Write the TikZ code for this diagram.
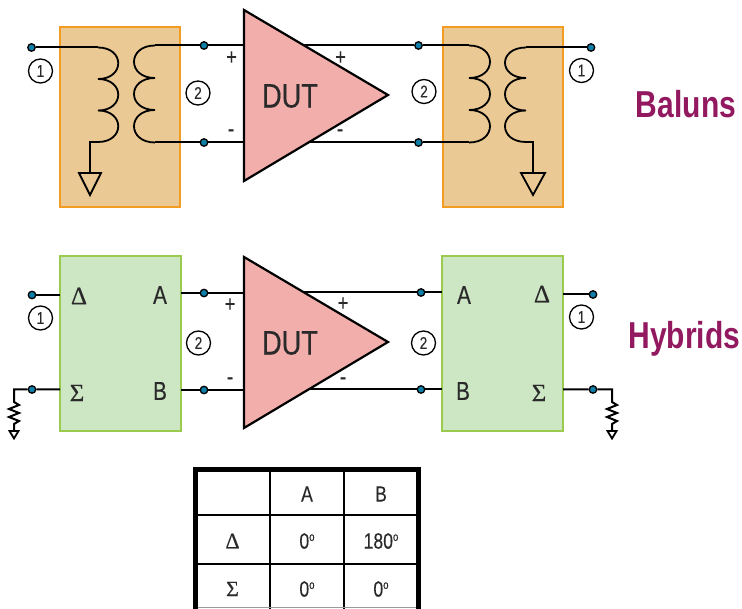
\documentclass[tikz,border=0pt]{standalone}
\usepackage{fontspec}
\setmainfont{Liberation Sans}[FakeStretch=0.8,FakeBold=0.25]
\newfontfamily\greekfont{Liberation Serif}[FakeBold=0.3]
\newfontfamily\boldnarrow{Liberation Sans}[FakeStretch=0.8,BoldFont={Liberation Sans Bold}]
\definecolor{balunfill}{HTML}{EAC995}
\definecolor{balunedge}{HTML}{F39C23}
\definecolor{hybfill}{HTML}{CDE6C3}
\definecolor{hybedge}{HTML}{9BCB4E}
\definecolor{dutfill}{HTML}{F2AEAB}
\definecolor{dotfill}{HTML}{0F7FA8}
\definecolor{titlecol}{HTML}{92195F}
\definecolor{txt}{HTML}{2A2A2A}
\tikzset{
 x=1pt,y=-1pt,
 wire/.style={line width=2pt,line join=miter},
 coil/.style={line width=1.8pt},
 balun/.style={draw=balunedge,fill=balunfill,line width=2pt,inner sep=0pt,anchor=north west},
 hybrid/.style={draw=hybedge,fill=hybfill,line width=2pt,inner sep=0pt,anchor=north west},
 termdot/.style={circle,draw=black,fill=dotfill,line width=1.3pt,minimum size=7.5pt,inner sep=0pt},
 portnum/.style={circle,draw=black,fill=white,line width=1.3pt,minimum size=24pt,inner sep=0pt,font=\fontsize{17}{17}\selectfont,text=txt},
 sign/.style={inner sep=0pt,font=\fontsize{23}{23}\selectfont,text=txt},
 letter/.style={inner sep=0pt,font=\fontsize{26}{26}\selectfont,text=txt},
 greeklet/.style={inner sep=0pt,font=\greekfont\fontsize{25}{25}\selectfont,text=txt},
 dutlabel/.style={inner sep=0pt,font=\fontsize{34}{34}\selectfont,text=txt},
 dutbody/.style={draw=black,fill=dutfill,line width=2.2pt,line join=miter},
 gnd/.style={draw=black,line width=1.8pt,line join=miter},
 title/.style={inner sep=0pt,font=\boldnarrow\bfseries\fontsize{37.5}{37.5}\selectfont,text=titlecol},
 cell/.style={inner sep=0pt,font=\fontsize{22}{22}\selectfont,text=txt},
 greekcell/.style={inner sep=0pt,font=\greekfont\fontsize{22}{22}\selectfont,text=txt},
 thinrule/.style={line width=2pt},
 thickrule/.style={line width=4.5pt}
}
\begin{document}
\begin{tikzpicture}
\useasboundingbox (0,0) rectangle (742,609);
% ---------- boxes
\node[balun,minimum width=120pt,minimum height=180pt] (b1) at (59,26.3) {};
\node[balun,minimum width=120.5pt,minimum height=180pt] (b2) at (441.7,26.3) {};
\node[hybrid,minimum width=120.7pt,minimum height=175pt] (h1) at (59,255) {};
\node[hybrid,minimum width=120.4pt,minimum height=175pt] (h2) at (441.3,255) {};
% ---------- balun row terminals
\node[termdot] (t1) at (31.5,47.5) {};
\node[termdot] (t2) at (204,45.5) {};
\node[termdot] (t3) at (204,142.5) {};
\node[termdot] (t4) at (418.5,45.5) {};
\node[termdot] (t5) at (418.5,142.5) {};
\node[termdot] (t6) at (591,47.5) {};
\coordinate (p1s) at (98,47.5);
\coordinate (p1e) at (98,142);
\coordinate (s1s) at (155,45.5);
\coordinate (s1e) at (155,142.5);
\coordinate (p2s) at (469,45.5);
\coordinate (p2e) at (469,142.5);
\coordinate (s2s) at (526,47.5);
\coordinate (s2e) at (526,142);
\coordinate (dutAin) at (244,45.5);
\coordinate (dutBin) at (244,142.5);
\coordinate (gA) at (90,173);
\coordinate (gB) at (533,173);
% wires
\draw[wire] (t1) -- (p1s);
\draw[wire] (s1s) -- (t2) -- (dutAin);
\draw[wire] (s1e) -- (t3) -- (dutBin);
\draw[wire] (300,45.5) -- (t4) -- (p2s);
\draw[wire] (300,142.5) -- (t5) -- (p2e);
\draw[wire] (s2s) -- (t6);
\draw[wire] (p1e) -- (90,142) -- (gA);
\draw[wire] (s2e) -- (533,142) -- (gB);
% coils
\draw[coil] (p1s) .. controls (125,47.5) and (125,79) .. (98,79)
  .. controls (125,79) and (125,110.5) .. (98,110.5)
  .. controls (125,110.5) and (125,142) .. (p1e);
\draw[coil] (s1s) .. controls (127,45.5) and (127,78) .. (155,78)
  .. controls (127,78) and (127,110) .. (155,110)
  .. controls (127,110) and (127,142.5) .. (s1e);
\draw[coil] (p2s) .. controls (497,45.5) and (497,78) .. (469,78)
  .. controls (497,78) and (497,110) .. (469,110)
  .. controls (497,110) and (497,142.5) .. (p2e);
\draw[coil] (s2s) .. controls (498,47.5) and (498,78) .. (526,78)
  .. controls (498,78) and (498,110.5) .. (526,110.5)
  .. controls (498,110.5) and (498,142) .. (s2e);
% grounds
\draw[gnd] (79,173) -- (101,173) -- (90,195) -- cycle;
\draw[gnd] (521,173) -- (545,173) -- (533,195) -- cycle;
% ---------- hybrid row
\node[termdot] (u1) at (32,295) {};
\node[termdot] (u2) at (32,389.5) {};
\node[termdot] (u3) at (204,293) {};
\node[termdot] (u4) at (204,390) {};
\node[termdot] (u5) at (421,292.5) {};
\node[termdot] (u6) at (421,389.5) {};
\node[termdot] (u7) at (593,294.5) {};
\node[termdot] (u8) at (593,389.5) {};
\coordinate (h1D) at (60,295);
\coordinate (h1S) at (60,389.5);
\coordinate (h1A) at (181,293);
\coordinate (h1B) at (181,390);
\coordinate (h2A) at (442,292.5);
\coordinate (h2B) at (442,389.5);
\coordinate (h2D) at (563,294.5);
\coordinate (h2S) at (563,389.5);
\draw[wire] (u1) -- (h1D);
\draw[wire] (h1S) -- (u2) -- (14,389.5) -- (14,402) -- (19,405) -- (9,409) -- (19,413) -- (9,417) -- (19,421) -- (14,424) -- (14,431);
\draw[wire] (h1A) -- (u3) -- (244,293);
\draw[wire] (h1B) -- (u4) -- (244,390);
\draw[wire] (300,292.5) -- (u5) -- (h2A);
\draw[wire] (300,389.5) -- (u6) -- (h2B);
\draw[wire] (h2D) -- (u7);
\draw[wire] (h2S) -- (u8) -- (612,389.5) -- (612,402) -- (617,405) -- (607,409) -- (617,413) -- (607,417) -- (617,421) -- (612,424) -- (612,431);
\draw[gnd] (9.5,431) -- (18.5,431) -- (14,438.5) -- cycle;
\draw[gnd] (607.5,431) -- (616.5,431) -- (612,438.5) -- cycle;
% ---------- DUTs
\draw[dutbody] (244,10) -- (388,95) -- (244,181) -- cycle;
\draw[dutbody] (244,257) -- (388,342) -- (244,428) -- cycle;
\node[dutlabel] (d1) at (290,96) {DUT};
\node[dutlabel] (d2) at (290,343) {DUT};
% ---------- port circles
\node[portnum] (n1) at (40.5,71) {1};
\node[portnum] (n2) at (198,93) {2};
\node[portnum] (n3) at (424,91.5) {2};
\node[portnum] (n4) at (581.5,70.5) {1};
\node[portnum] (n5) at (40.5,318) {1};
\node[portnum] (n6) at (198.5,343) {2};
\node[portnum] (n7) at (423.5,343) {2};
\node[portnum] (n8) at (581.5,317) {1};
% ---------- signs
\node[sign] (s1) at (231.5,58) {+};
\node[sign] (s2) at (231,133) {-};
\node[sign] (s3) at (340.5,58) {+};
\node[sign] (s4) at (340,133) {-};
\node[sign] (s5) at (230,305) {+};
\node[sign] (s6) at (230,381) {-};
\node[sign] (s7) at (343,304) {+};
\node[sign] (s8) at (343,381) {-};
% ---------- hybrid port letters
\node[greeklet] (l1) at (79,296) {Δ};
\node[letter] (l2) at (160,295) {A};
\node[greeklet] (l3) at (77,393) {Σ};
\node[letter] (l4) at (160,391) {B};
\node[letter] (l5) at (464,295) {A};
\node[letter] (l6) at (463,391) {B};
\node[greeklet] (l7) at (542,294) {Δ};
\node[greeklet] (l8) at (539,393) {Σ};
% ---------- titles
\node[title] (tb) at (686,104) {Baluns};
\node[title] (th) at (684.5,339) {Hybrids};
% ---------- table
\draw[thinrule] (270,470) -- (270,609);
\draw[thinrule] (344,470) -- (344,609);
\draw[thinrule] (196,515) -- (419,515);
\draw[thinrule] (196,564) -- (419,564);
\draw[line width=1.2pt,black!40] (196,607.5) -- (419,607.5);
\draw[thickrule] (195.5,609) -- (195.5,469.5) -- (418.5,469.5) -- (418.5,609);
\node[cell] (c1) at (307,494) {A};
\node[cell] (c2) at (381,494) {B};
\node[greekcell] (c3) at (232.5,541) {Δ};
\node[cell] (c4) at (307,541) {0\raisebox{.35em}{\fontsize{12}{12}\selectfont o}};
\node[cell] (c5) at (381,541) {180\raisebox{.35em}{\fontsize{12}{12}\selectfont o}};
\node[greekcell] (c6) at (232.5,589) {Σ};
\node[cell] (c7) at (307,589) {0\raisebox{.35em}{\fontsize{12}{12}\selectfont o}};
\node[cell] (c8) at (381,589) {0\raisebox{.35em}{\fontsize{12}{12}\selectfont o}};
\end{tikzpicture}
\end{document}
